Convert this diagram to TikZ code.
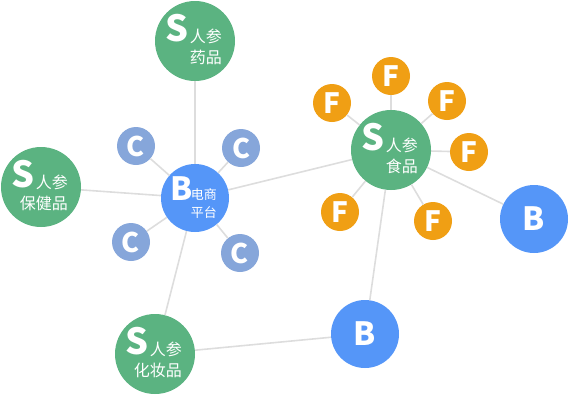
\documentclass[tikz,border=0pt]{standalone}
\usepackage{fontspec}
\setmainfont{Noto Sans CJK SC}
\definecolor{sgreen}{HTML}{5BB381}
\definecolor{bblue}{HTML}{5596F8}
\definecolor{cblue}{HTML}{86A6DA}
\definecolor{forange}{HTML}{F09F14}
\definecolor{linkgray}{HTML}{DDDDDD}
\usetikzlibrary{positioning}

\begin{document}
\begin{tikzpicture}[x=1pt,y=-1pt,
  snode/.style={circle,fill=sgreen,minimum size=80pt,inner sep=0pt},
  bnode/.style={circle,fill=bblue,minimum size=68pt,inner sep=0pt,text=white,font=\bfseries\fontsize{32}{32}\selectfont},
  cnode/.style={circle,fill=cblue,minimum size=38pt,inner sep=0pt,text=white,font=\bfseries\fontsize{27}{27}\selectfont},
  fnode/.style={circle,fill=forange,minimum size=38pt,inner sep=0pt,text=white,font=\bfseries\fontsize{28}{28}\selectfont},
  bigletter/.style={inner sep=0pt,text=white,font=\bfseries\fontsize{36}{36}\selectfont},
  smalltext/.style={inner sep=0pt,anchor=east,text=white,font=\fontsize{16}{16}\selectfont},
  link/.style={draw=linkgray,line width=1.6pt}]
  \useasboundingbox (0,0) rectangle (569,394);

  % suppliers
  \node[snode] (sDrug) at (195,41) {};
  \node[snode] (sHealth) at (41,187) {};
  \node[snode] (sFood) at (391,150) {};
  \node[snode] (sCosm) at (155,354) {};

  % platform and buyers
  \node[bnode] (bMall) at (195,198) {};
  \node[bnode] (bRight) at (534,219) {B};
  \node[bnode] (bLow) at (365,334) {B};

  % consumers
  \node[cnode] (c1) at (136,146) {C};
  \node[cnode] (c2) at (241,148) {C};
  \node[cnode] (c3) at (131,242) {C};
  \node[cnode] (c4) at (240,253) {C};

  % farmers
  \node[fnode] (f1) at (391,76) {F};
  \node[fnode] (f2) at (332,103) {F};
  \node[fnode] (f3) at (447,101) {F};
  \node[fnode] (f4) at (469,152) {F};
  \node[fnode] (f5) at (340,212) {F};
  \node[fnode] (f6) at (433,221) {F};

  % links
  \draw[link] (sDrug) -- (bMall);
  \draw[link] (sHealth) -- (bMall);
  \draw[link] (bMall) -- (sFood);
  \draw[link] (bMall) -- (sCosm);
  \draw[link] (bMall) -- (c1);
  \draw[link] (bMall) -- (c2);
  \draw[link] (bMall) -- (c3);
  \draw[link] (bMall) -- (c4);
  \draw[link] (sFood) -- (f1);
  \draw[link] (sFood) -- (f2);
  \draw[link] (sFood) -- (f3);
  \draw[link] (sFood) -- (f4);
  \draw[link] (sFood) -- (f5);
  \draw[link] (sFood) -- (f6);
  \draw[link] (sFood) -- (bRight);
  \draw[link] (sFood) -- (bLow);
  \draw[link] (sCosm) -- (bLow);

  % texts inside the circles
  \node[bigletter] (sDrugS) at ([shift={(-18,-13)}]sDrug) {S};
  \node[smalltext] (sDrugA) at ([shift={(27,-5)}]sDrug) {人参};
  \node[smalltext] (sDrugB) at ([shift={(27,16)}]sDrug) {药品};

  \node[bigletter] (sHealthS) at ([shift={(-18,-13)}]sHealth) {S};
  \node[smalltext] (sHealthA) at ([shift={(27,-5)}]sHealth) {人参};
  \node[smalltext] (sHealthB) at ([shift={(27,16)}]sHealth) {保健品};

  \node[bigletter] (sFoodS) at ([shift={(-18,-13)}]sFood) {S};
  \node[smalltext] (sFoodA) at ([shift={(27,-5)}]sFood) {人参};
  \node[smalltext] (sFoodB) at ([shift={(27,16)}]sFood) {食品};

  \node[bigletter] (sCosmS) at ([shift={(-18,-13)}]sCosm) {S};
  \node[smalltext] (sCosmA) at ([shift={(27,-5)}]sCosm) {人参};
  \node[smalltext] (sCosmB) at ([shift={(27,16)}]sCosm) {化妆品};

  \node[bigletter,font=\bfseries\fontsize{32}{32}\selectfont] (bMallB) at ([shift={(-13,-9)}]bMall) {B};
  \node[smalltext,font=\fontsize{13}{13}\selectfont] (bMallA) at ([shift={(22,-3)}]bMall) {电商};
  \node[smalltext,font=\fontsize{13}{13}\selectfont] (bMallB2) at ([shift={(22,15)}]bMall) {平台};
\end{tikzpicture}
\end{document}
